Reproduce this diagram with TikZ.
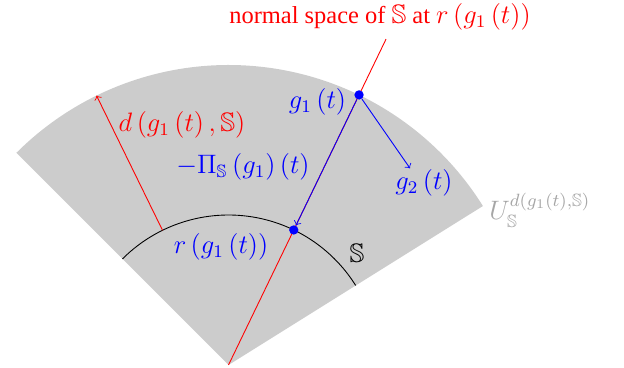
\documentclass[tikz,border=0pt]{standalone}
\usepackage{amssymb}
\usepackage{fontspec}
\setmainfont{Liberation Serif}
\usetikzlibrary{positioning}

\begin{document}
\begin{tikzpicture}[x=0.45pt,y=0.45pt,
  dot/.style={circle,fill=blue,inner sep=0pt,minimum size=4.2pt},
  lbl/.style={font=\large,inner sep=0pt}]
\useasboundingbox (0,0) rectangle (624,368);
\begin{scope}[shift={(228.5,3)}]
\coordinate (C) at (0,0);
\fill[gray!40] (C) -- (135:300) arc[start angle=135,end angle=32,radius=300] -- cycle;
\draw[black] (135:150) arc[start angle=135,end angle=32,radius=150];
\coordinate (nTop) at (64.2:362);
\draw[red] (C) -- (nTop);
\coordinate (dS) at (116.1:150);
\coordinate (dU) at (116.1:300);
\draw[red,->] (dS) -- (dU);
\node[dot] (g1) at (64.2:300) {};
\node[dot] (r) at (64.2:150) {};
\end{scope}
\coordinate (g2) at (410,199.7);
\draw[blue,->] (g1) -- (r);
\draw[blue,->] (g1) -- (g2);

\node[lbl,text=red] (normal) at (380,351) {\fontsize{11}{13}\selectfont normal space of {\large$\mathbb{S}$} at {\large$r\left(g_1\left(t\right)\right)$}};
\node[lbl,text=red] (dlbl) at (182,243) {$d\left(g_1\left(t\right),\mathbb{S}\right)$};
\node[lbl,text=blue] (pilbl) at (243,201) {$-\Pi_{\mathbb{S}}\left(g_1\right)\left(t\right)$};
\node[lbl,text=blue] (g1lbl) at (317.5,266) {$g_1\left(t\right)$};
\node[lbl,text=blue] (g2lbl) at (424,185) {$g_2\left(t\right)$};
\node[lbl,text=blue] (rlbl) at (221,121) {$r\left(g_1\left(t\right)\right)$};
\node[lbl,text=black] (Slbl) at (357,115) {$\mathbb{S}$};
\node[lbl,text=gray!70,anchor=base west] (Ulbl) at (489,148) {$U_{\mathbb{S}}^{d\left(g_1\left(t\right),\mathbb{S}\right)}$};
\end{tikzpicture}
\end{document}
